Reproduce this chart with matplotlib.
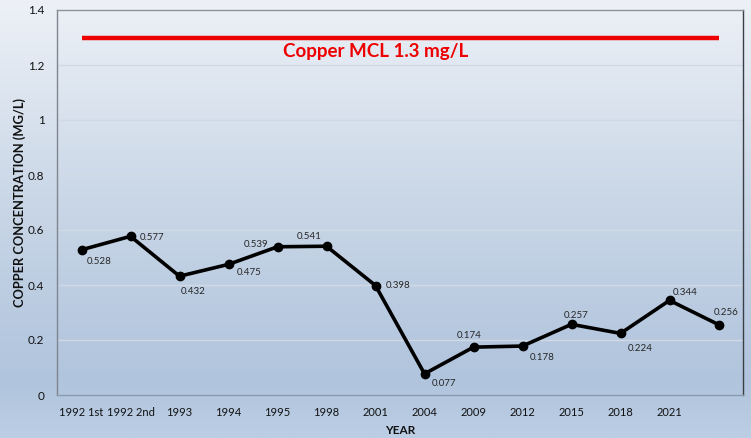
import numpy as np
import matplotlib
matplotlib.use("Agg")
import matplotlib.pyplot as plt
from matplotlib.colors import LinearSegmentedColormap

plt.rcParams['font.family'] = ['Lato', 'DejaVu Sans']

# ---- data ----
categories = ["1992 1st", "1992 2nd", "1993", "1994", "1995", "1998", "2001",
              "2004", "2009", "2012", "2015", "2018", "2021", ""]
copper = [0.528, 0.577, 0.432, 0.475, 0.539, 0.541, 0.398,
          0.077, 0.174, 0.178, 0.257, 0.224, 0.344, 0.256]
mcl_value = 1.3
mcl_label = "Copper MCL 1.3 mg/L"
y_ticks = [0, 0.2, 0.4, 0.6, 0.8, 1.0, 1.2, 1.4]
y_tick_labels = ["0", "0.2", "0.4", "0.6", "0.8", "1", "1.2", "1.4"]

# label offsets (pixels) for data labels
label_offsets = [(18, -12), (22, -1), (14, -15), (21, -8), (-21, 2), (-17, 10),
                 (23, 0), (20, -10), (-4, 12), (20, -11), (5, 9), (20, -15),
                 (16, 8), (8, 12)]

fig = plt.figure(figsize=(7.51, 4.38), dpi=100)

# background gradient
bg = fig.add_axes([0, 0, 1, 1], zorder=-10)
cmap = LinearSegmentedColormap.from_list(
    "bg", [(0.0, "#edf1f7"), (0.45, "#cad7e7"), (0.87, "#b0c4dd"), (1.0, "#bbcee4")])
grad = np.linspace(0, 1, 256).reshape(-1, 1)
bg.imshow(grad, aspect="auto", cmap=cmap, extent=[0, 1, 0, 1], origin="upper")
bg.set_axis_off()

ax = fig.add_axes([57/751, (438-395)/438, (743-57)/751, (395-10)/438])
ax.set_facecolor("none")

x = np.arange(len(categories))
ax.set_xlim(-0.5, len(categories) - 0.5)
ax.set_ylim(0, 1.4)

for yv in y_ticks[1:-1]:
    ax.axhline(yv, color="#d0d9e4", lw=1.0, zorder=1)

ax.plot([x[0], x[-1]], [mcl_value, mcl_value], color="#ee0000", lw=3.2,
        solid_capstyle="butt", zorder=3)
ax.text(6, 1.25, mcl_label, color="#ee0000", fontsize=13.5, fontweight="bold",
        ha="center", va="center", zorder=4)

ax.plot(x, copper, color="black", lw=2.6, marker="o", markersize=6,
        zorder=5)

for xi, v, off in zip(x, copper, label_offsets):
    ax.annotate(f"{v:.3f}", (xi, v), xytext=off, textcoords="offset pixels",
                ha="center", va="center", fontsize=7, color="#262626", zorder=6)

ax.set_xticks(x)
ax.set_xticklabels(categories, fontsize=8, color="#111111")
ax.set_yticks(y_ticks)
ax.set_yticklabels(y_tick_labels, fontsize=8.5, color="#111111")
ax.tick_params(axis="both", length=0)
ax.tick_params(axis="x", pad=9)
ax.tick_params(axis="y", pad=9)

ax.spines["left"].set_color("#7f8690")
ax.spines["top"].set_color("#8c939b")
ax.spines["right"].set_color("#3a3f45")
ax.spines["bottom"].set_color("#8a9bb0")
for s in ax.spines.values():
    s.set_linewidth(1.0)

ax.set_ylabel("COPPER CONCENTRATION (MG/L)", fontsize=9.3, fontweight="bold",
              color="#111111", va="center")
ax.yaxis.set_label_coords(-37/686, 0.5)
ax.set_xlabel("YEAR", fontsize=8.5, fontweight="bold", color="#111111",
              va="center")
ax.xaxis.set_label_coords(0.5, -35/385)

fig.savefig("out.png", dpi=100)
